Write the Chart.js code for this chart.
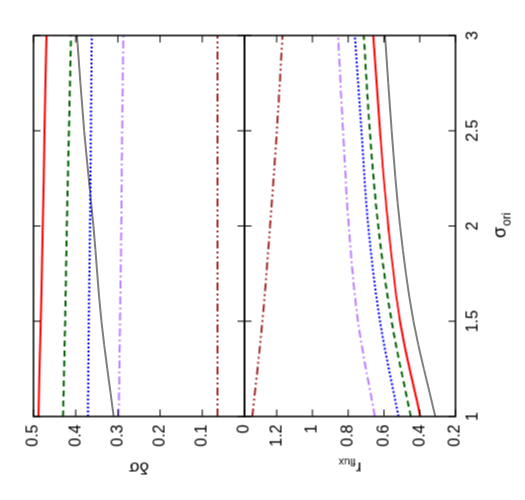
<!DOCTYPE html>
<html><head><meta charset="utf-8">
<script src="https://cdn.jsdelivr.net/npm/chart.js@4"></script>
<style>
html,body{margin:0;padding:0;background:#fff;overflow:hidden}
#wrap{position:absolute;left:12.5px;top:-12.5px;width:500px;height:525px;transform:rotate(-90deg)}
</style></head><body>
<div id="wrap"><canvas id="c" width="500" height="525"></canvas></div>
<script>
var sigma = [1, 1.5, 2, 2.5, 3];
var sigmaTicks = [1, 1.5, 2, 2.5, 3];
// top panel: delta sigma
var dsRed = [0.488, 0.483, 0.478, 0.474, 0.469];
var dsGreen = [0.430, 0.425, 0.421, 0.416, 0.411];
var dsBlue = [0.371, 0.369, 0.366, 0.364, 0.362];
var dsPurple = [0.298, 0.295, 0.292, 0.290, 0.287];
var dsBrown = [0.064, 0.064, 0.064, 0.064, 0.064];
var dsBlack = [0.310, 0.339, 0.358, 0.380, 0.397];
// bottom panel: r_flux
var rfRed = [0.397, 0.510, 0.576, 0.622, 0.660];
var rfGreen = [0.450, 0.557, 0.632, 0.679, 0.713];
var rfBlue = [0.519, 0.622, 0.688, 0.726, 0.763];
var rfPurple = [0.651, 0.745, 0.797, 0.829, 0.857];
var rfBrown = [1.336, 1.280, 1.237, 1.199, 1.167];
var rfBlack = [0.313, 0.435, 0.510, 0.557, 0.594];
var dsTicks = [0, 0.1, 0.2, 0.3, 0.4, 0.5];
var rfTicks = [0.2, 0.4, 0.6, 0.8, 1, 1.2];

function pts(ys) { return sigma.map(function (s, i) { return {x: s, y: ys[i]}; }); }
var styles = [
  {c: '#ff0000', w: 2, d: []},
  {c: '#006400', w: 2, d: [6, 4]},
  {c: '#0000ff', w: 2, d: [2, 2]},
  {c: '#bf80ff', w: 2, d: [8, 3, 2, 3]},
  {c: '#a52a2a', w: 2, d: [8, 3, 2, 3, 2, 3]},
  {c: '#000000', w: 1, d: []}
];
var datasets = [];
[dsRed, dsGreen, dsBlue, dsPurple, dsBrown, dsBlack].forEach(function (d, i) {
  datasets.push({data: pts(d), yAxisID: 'y1', borderColor: styles[i].c, borderWidth: styles[i].w, borderDash: styles[i].d});
});
[rfRed, rfGreen, rfBlue, rfPurple, rfBrown, rfBlack].forEach(function (d, i) {
  datasets.push({data: pts(d), yAxisID: 'y2', borderColor: styles[i].c, borderWidth: styles[i].w, borderDash: styles[i].d});
});

var font = {family: 'Liberation Sans', size: 16};
function fixTicks(list) { return function (ax) { ax.ticks = list.map(function (v) { return {value: v}; }); }; }
function plain(v) { return String(Math.round(v * 100) / 100); }

var frame = {
  id: 'frame',
  afterDraw: function (chart) {
    var ctx = chart.ctx, a = chart.chartArea, s = chart.scales;
    ctx.save();
    ctx.strokeStyle = '#000';
    [s.y1, s.y2].forEach(function (ax) {
      ctx.lineWidth = 1.5;
      ctx.strokeRect(a.left, ax.top, a.right - a.left, ax.bottom - ax.top);
      ctx.lineWidth = 1;
      ax.ticks.forEach(function (t) {
        var p = ax.getPixelForValue(t.value);
        ctx.beginPath();
        ctx.moveTo(a.left, p); ctx.lineTo(a.left + 7, p);
        ctx.moveTo(a.right, p); ctx.lineTo(a.right - 7, p);
        ctx.stroke();
      });
      s.x.ticks.forEach(function (t) {
        var p = s.x.getPixelForValue(t.value);
        ctx.beginPath();
        ctx.moveTo(p, ax.top); ctx.lineTo(p, ax.top + 7);
        ctx.moveTo(p, ax.bottom); ctx.lineTo(p, ax.bottom - 7);
        ctx.stroke();
      });
    });
    ctx.fillStyle = '#000';
    ctx.textAlign = 'left';
    ctx.textBaseline = 'alphabetic';
    // x title
    ctx.font = '18px "Liberation Sans"';
    var cx = (a.left + a.right) / 2;
    ctx.fillText('\u03c3', cx - 12, 505);
    ctx.font = '12px "Liberation Sans"';
    ctx.fillText('ori', cx, 510);
    // y titles
    function ytitle(ax, main, sub) {
      ctx.save();
      ctx.translate(38, (ax.top + ax.bottom) / 2);
      ctx.rotate(-Math.PI / 2);
      ctx.font = '17px "Liberation Sans"';
      var w = ctx.measureText(main).width;
      ctx.font = '11px "Liberation Sans"';
      var w2 = ctx.measureText(sub).width;
      var x0 = -(w + w2) / 2;
      ctx.font = '17px "Liberation Sans"';
      ctx.fillText(main, x0, 0);
      ctx.font = '11px "Liberation Sans"';
      ctx.fillText(sub, x0 + w, 4);
      ctx.restore();
    }
    ytitle(s.y1, '\u03b4\u03c3', '');
    ytitle(s.y2, 'r', 'flux');
    ctx.restore();
  }
};

new Chart(document.getElementById('c'), {
  type: 'line',
  data: {datasets: datasets},
  plugins: [frame],
  options: {
    responsive: false,
    animation: false,
    events: [],
    layout: {padding: {top: 33, right: 35, left: 0, bottom: 0}},
    elements: {point: {radius: 0}, line: {tension: 0.4, cubicInterpolationMode: 'monotone'}},
    plugins: {legend: {display: false}, tooltip: {enabled: false}},
    scales: {
      x: {
        type: 'linear', min: 1, max: 3,
        afterBuildTicks: fixTicks(sigmaTicks),
        afterFit: function (ax) { ax.height = 70; },
        grid: {display: false, drawTicks: false}, border: {display: false},
        ticks: {font: font, color: '#000', padding: 8, maxRotation: 0, callback: plain}
      },
      y2: {
        type: 'linear', min: 0.2, max: 1.38, stack: 'p', stackWeight: 1, offset: false,
        afterBuildTicks: fixTicks(rfTicks),
        afterFit: function (ax) { ax.width = 84; },
        grid: {display: false, drawTicks: false}, border: {display: false},
        ticks: {font: font, color: '#000', padding: 8, callback: plain}
      },
      y1: {
        type: 'linear', min: 0, max: 0.5, stack: 'p', stackWeight: 1, offset: false,
        afterBuildTicks: fixTicks(dsTicks),
        afterFit: function (ax) { ax.width = 84; },
        grid: {display: false, drawTicks: false}, border: {display: false},
        ticks: {font: font, color: '#000', padding: 8, callback: plain}
      }
    }
  }
});
</script></body></html>
